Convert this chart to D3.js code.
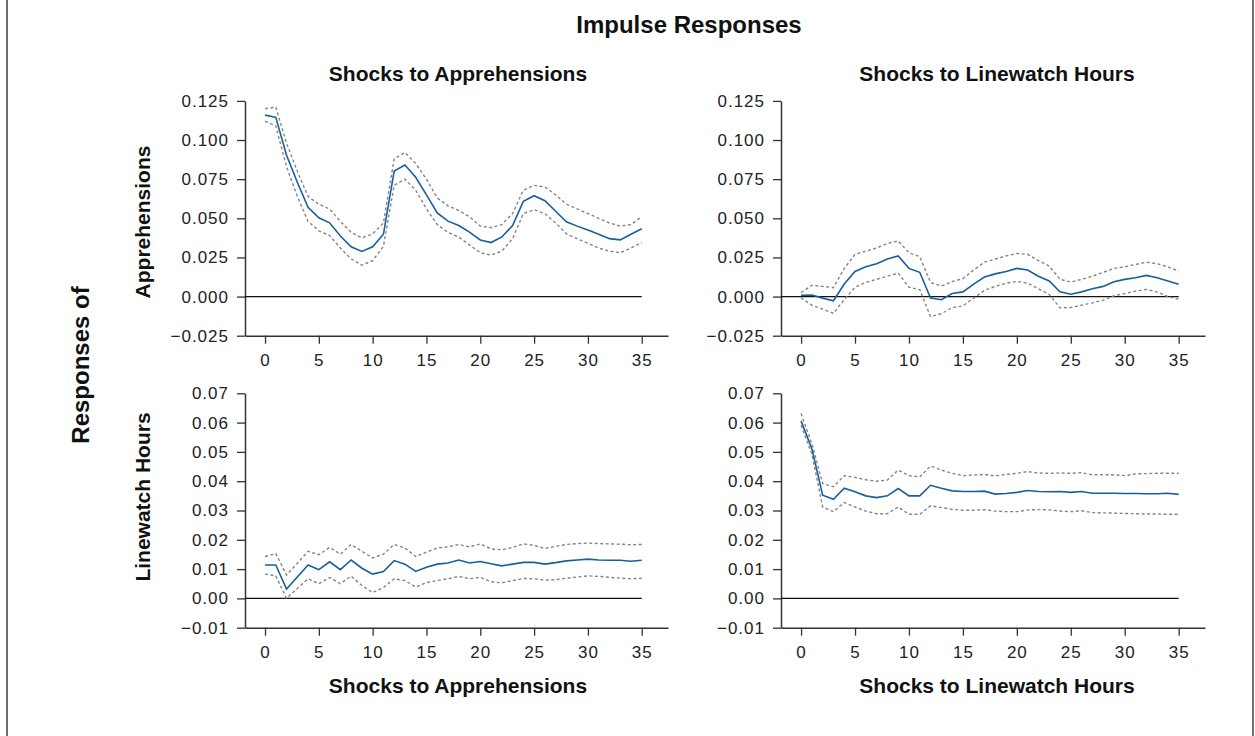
<!DOCTYPE html>
<html>
<head>
<meta charset="utf-8">
<script src="https://cdn.jsdelivr.net/npm/d3@7"></script>
<style>
  body { margin: 0; background: #fff; }
  svg { display: block; }
</style>
</head>
<body>
<div id="chart"></div>
<script>
// Horizon (periods after the shock)
var steps = [0, 1, 2, 3, 4, 5, 6, 7, 8, 9, 10, 11, 12, 13, 14, 15, 16, 17,
  18, 19, 20, 21, 22, 23, 24, 25, 26, 27, 28, 29, 30, 31, 32, 33, 34, 35];
var xTicks = [0, 5, 10, 15, 20, 25, 30, 35];
var apprTicks = [-0.025, 0, 0.025, 0.05, 0.075, 0.1, 0.125];
var hoursTicks = [-0.01, 0, 0.01, 0.02, 0.03, 0.04, 0.05, 0.06, 0.07];

var shockNames = ["Shocks to Apprehensions", "Shocks to Linewatch Hours"];
var responseNames = ["Apprehensions", "Linewatch Hours"];

// Apprehensions responding to apprehension shocks
var apprApprMean = [0.1159, 0.1145, 0.0903, 0.073, 0.057, 0.0503, 0.0471, 0.0387, 0.0318, 0.0288,
  0.0318, 0.0398, 0.0802, 0.084, 0.0762, 0.065, 0.0534, 0.0482, 0.0454, 0.0412,
  0.0362, 0.0345, 0.0381, 0.0454, 0.0608, 0.0644, 0.0612, 0.0545, 0.0478, 0.045,
  0.0425, 0.0398, 0.037, 0.0362, 0.0398, 0.0433];
var apprApprUpper = [0.12, 0.121, 0.098, 0.08, 0.064, 0.059, 0.056, 0.048, 0.041, 0.0375,
  0.04, 0.047, 0.088, 0.092, 0.085, 0.075, 0.063, 0.058, 0.055, 0.051,
  0.045, 0.044, 0.046, 0.053, 0.068, 0.071, 0.07, 0.065, 0.059, 0.056,
  0.053, 0.05, 0.047, 0.045, 0.046, 0.051];
var apprApprLower = [0.112, 0.109, 0.083, 0.064, 0.048, 0.042, 0.039, 0.031, 0.024, 0.02,
  0.023, 0.032, 0.071, 0.075, 0.068, 0.056, 0.046, 0.041, 0.038, 0.033,
  0.028, 0.0265, 0.029, 0.037, 0.053, 0.0555, 0.053, 0.047, 0.04, 0.037,
  0.034, 0.031, 0.029, 0.028, 0.031, 0.0345];

// Apprehensions responding to linewatch hours shocks
var apprHoursMean = [0.0008, 0.001, -0.001, -0.0027, 0.008, 0.016, 0.019, 0.021, 0.024, 0.026,
  0.018, 0.0155, -0.001, -0.002, 0.002, 0.003, 0.008, 0.0125, 0.0145, 0.016,
  0.018, 0.017, 0.013, 0.01, 0.003, 0.0015, 0.003, 0.005, 0.0065, 0.0095,
  0.011, 0.012, 0.0135, 0.012, 0.01, 0.0078];
var apprHoursUpper = [0.0025, 0.0072, 0.0065, 0.0057, 0.018, 0.027, 0.029, 0.031, 0.034, 0.0355,
  0.028, 0.0255, 0.009, 0.0067, 0.0095, 0.0115, 0.017, 0.022, 0.024, 0.026,
  0.0275, 0.027, 0.023, 0.0195, 0.011, 0.0093, 0.011, 0.013, 0.0155, 0.018,
  0.019, 0.0205, 0.022, 0.021, 0.019, 0.0162];
var apprHoursLower = [-0.0008, -0.0055, -0.008, -0.0107, -0.002, 0.006, 0.009, 0.011, 0.013, 0.015,
  0.006, 0.0044, -0.0128, -0.011, -0.007, -0.006, -0.001, 0.004, 0.0065, 0.0085,
  0.0097, 0.0085, 0.005, 0.0013, -0.0072, -0.007, -0.0055, -0.004, -0.0023, 0.0005,
  0.0019, 0.0035, 0.0046, 0.003, 0.0, -0.0017];

// Linewatch hours responding to apprehension shocks
var hoursApprMean = [0.0114, 0.0114, 0.0032, 0.0073, 0.0114, 0.0098, 0.0125, 0.0098, 0.0131, 0.0103,
  0.0083, 0.0092, 0.0129, 0.0117, 0.0092, 0.0106, 0.0117, 0.0121, 0.0131, 0.0121,
  0.0126, 0.0118, 0.0111, 0.0117, 0.0123, 0.0123, 0.0117, 0.0122, 0.0128, 0.0131,
  0.0134, 0.0131, 0.013, 0.013, 0.0127, 0.013];
var hoursApprUpper = [0.0143, 0.0153, 0.008, 0.012, 0.0161, 0.0149, 0.0174, 0.0151, 0.0184, 0.0161,
  0.0138, 0.0151, 0.0184, 0.0172, 0.0143, 0.0158, 0.0172, 0.0176, 0.0184, 0.0176,
  0.0186, 0.0169, 0.0166, 0.0174, 0.0186, 0.0181, 0.017, 0.0178, 0.0184, 0.0187,
  0.0189, 0.0187, 0.0186, 0.0185, 0.0183, 0.0184];
var hoursApprLower = [0.0083, 0.0077, 0.0, 0.0034, 0.0067, 0.005, 0.0071, 0.005, 0.0076, 0.0044,
  0.002, 0.0037, 0.0067, 0.0061, 0.0039, 0.0054, 0.0061, 0.0067, 0.0075, 0.0067,
  0.0072, 0.0057, 0.0053, 0.0061, 0.0068, 0.0067, 0.0062, 0.0064, 0.0069, 0.0073,
  0.0077, 0.0075, 0.0072, 0.0069, 0.0067, 0.0069];

// Linewatch hours responding to linewatch hours shocks
var hoursHoursMean = [0.0606, 0.0511, 0.0352, 0.0338, 0.0376, 0.0364, 0.035, 0.0344, 0.035, 0.0375,
  0.035, 0.035, 0.0386, 0.0376, 0.0367, 0.0365, 0.0365, 0.0366, 0.0356, 0.0358,
  0.0362, 0.0368, 0.0365, 0.0364, 0.0365, 0.0362, 0.0365, 0.0359, 0.0359, 0.0359,
  0.0358, 0.0358, 0.0357, 0.0357, 0.0359, 0.0355];
var hoursHoursUpper = [0.0631, 0.0528, 0.0392, 0.0381, 0.0419, 0.0413, 0.0405, 0.04, 0.0404, 0.0438,
  0.0419, 0.0415, 0.0452, 0.0438, 0.0427, 0.0419, 0.0421, 0.0423, 0.0418, 0.0423,
  0.0427, 0.0433, 0.0428, 0.0427, 0.0428, 0.0427, 0.0429, 0.0422, 0.0422, 0.0422,
  0.0419, 0.0425, 0.0426, 0.0427, 0.0427, 0.0427];
var hoursHoursLower = [0.0591, 0.0493, 0.0312, 0.0296, 0.0327, 0.0312, 0.0298, 0.0289, 0.0289, 0.0312,
  0.0287, 0.0287, 0.0316, 0.031, 0.0304, 0.0301, 0.0301, 0.0303, 0.0298, 0.0296,
  0.0296, 0.0302, 0.0303, 0.0302, 0.0298, 0.0296, 0.0299, 0.0293, 0.0292, 0.0291,
  0.029, 0.0289, 0.0288, 0.0288, 0.0287, 0.0287];

var width = 1255, height = 736;
var fontFamily = "'Liberation Sans', Arial, sans-serif";
var blue = "#1a5f9a";

var svg = d3.select("#chart").append("svg")
  .attr("width", width)
  .attr("height", height);

// frame lines on both sides
svg.append("line").attr("x1", 7).attr("x2", 7).attr("y1", 0).attr("y2", height)
  .attr("stroke", "#6f6f6f").attr("stroke-width", 2);
svg.append("line").attr("x1", 1253).attr("x2", 1253).attr("y1", 0).attr("y2", height)
  .attr("stroke", "#6f6f6f").attr("stroke-width", 2);

// panel boxes (left, right, top, bottom) and their series
var cols = [{ left: 245, right: 668 }, { left: 781, right: 1205 }];
var rows = [
  { top: 100.9, bottom: 335.7, domain: [-0.025, 0.125], ticks: apprTicks, fmt: ".3f" },
  { top: 393.3, bottom: 627.7, domain: [-0.01, 0.07], ticks: hoursTicks, fmt: ".2f" }
];
var series = [
  [[apprApprMean, apprApprUpper, apprApprLower], [apprHoursMean, apprHoursUpper, apprHoursLower]],
  [[hoursApprMean, hoursApprUpper, hoursApprLower], [hoursHoursMean, hoursHoursUpper, hoursHoursLower]]
];

rows.forEach(function(row, r) {
  cols.forEach(function(col, c) {
    var x = d3.scaleLinear().domain([-1.86, 37.44]).range([col.left, col.right]);
    var y = d3.scaleLinear().domain(row.domain).range([row.bottom, row.top]);
    var g = svg.append("g");

    var yAxis = g.append("g")
      .attr("transform", "translate(" + col.left + ",0)")
      .call(d3.axisLeft(y).tickValues(row.ticks).tickFormat(d3.format(row.fmt))
        .tickSize(8).tickSizeOuter(0).tickPadding(8));
    var xAxis = g.append("g")
      .attr("transform", "translate(0," + row.bottom + ")")
      .call(d3.axisBottom(x).tickValues(xTicks).tickSize(8).tickSizeOuter(0).tickPadding(10));

    [yAxis, xAxis].forEach(function(ax) {
      ax.select(".domain").attr("stroke", "#333").attr("stroke-width", 1.5);
      ax.selectAll(".tick line").attr("stroke", "#333").attr("stroke-width", 1.3);
      ax.selectAll("text")
        .attr("fill", "#222")
        .style("font-family", fontFamily)
        .style("font-size", "17px")
        .style("letter-spacing", "1px");
    });

    // zero line
    g.append("line")
      .attr("x1", x(-1.86)).attr("x2", x(35))
      .attr("y1", y(0)).attr("y2", y(0))
      .attr("stroke", "#111").attr("stroke-width", 1.3);

    var s = series[r][c];
    var line = d3.line().x(function(d, i) { return x(steps[i]); }).y(function(d) { return y(d); });

    [s[1], s[2]].forEach(function(band) {
      g.append("path").datum(band)
        .attr("d", line)
        .attr("fill", "none")
        .attr("stroke", "#858585")
        .attr("stroke-width", 1.4)
        .attr("stroke-dasharray", "3,2.5");
    });
    g.append("path").datum(s[0])
      .attr("d", line)
      .attr("fill", "none")
      .attr("stroke", blue)
      .attr("stroke-width", 1.6);
  });
});

// titles and labels
function label(txt, xPos, yPos, size, rotate) {
  var t = svg.append("text")
    .attr("text-anchor", "middle")
    .style("font-family", fontFamily)
    .style("font-weight", "bold")
    .style("font-size", size + "px")
    .attr("fill", "#111")
    .text(txt);
  if (rotate) {
    t.attr("transform", "translate(" + xPos + "," + yPos + ") rotate(-90)");
  } else {
    t.attr("x", xPos).attr("y", yPos);
  }
}

label("Impulse Responses", 689, 33, 24);
label(shockNames[0], 458, 81, 21);
label(shockNames[1], 997, 81, 21);
label(shockNames[0], 458, 693, 21);
label(shockNames[1], 997, 693, 21);
label(responseNames[0], 150, 222, 21, true);
label(responseNames[1], 150, 497, 21, true);
label("Responses of", 89, 365, 24, true);
</script>
</body>
</html>
